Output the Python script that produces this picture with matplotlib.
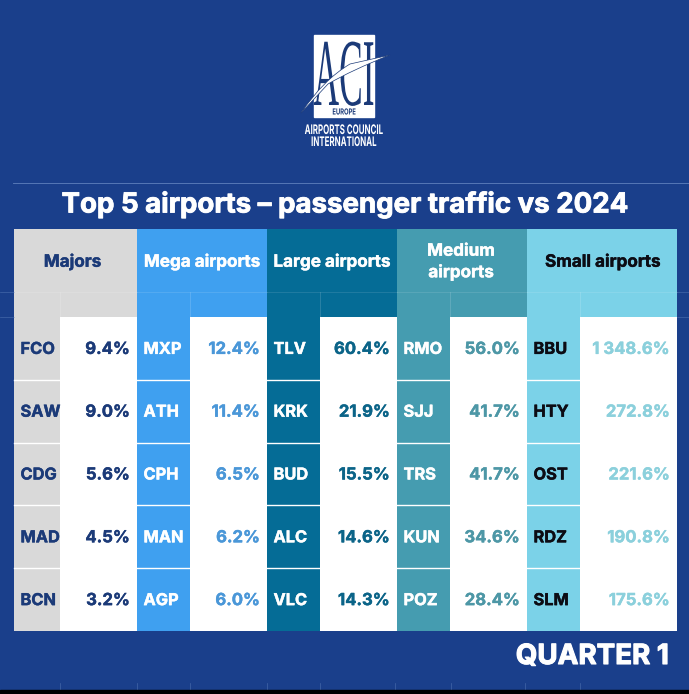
#!/usr/bin/env python3
"""Top 5 airports table, ACI Europe Q1 card. 689x694."""
import matplotlib; matplotlib.use("Agg")
import matplotlib.pyplot as plt
from matplotlib.patches import PathPatch, Rectangle
from matplotlib.path import Path
from matplotlib.patheffects import AbstractPathEffect, withStroke
from matplotlib.transforms import Affine2D

BG = "#1a3f8b"; NAVY = "#1b3a78"; FAINT = "#5f80bd"
plt.rcParams.update({"font.family": ["Inter", "DejaVu Sans"]})

groups = ["Majors", "Mega airports", "Large airports", "Medium\nairports", "Small airports"]
codes = [
    ["FCO", "SAW", "CDG", "MAD", "BCN"],
    ["MXP", "ATH", "CPH", "MAN", "AGP"],
    ["TLV", "KRK", "BUD", "ALC", "VLC"],
    ["RMO", "SJJ", "TRS", "KUN", "POZ"],
    ["BBU", "HTY", "OST", "RDZ", "SLM"],
]
values = [
    ["9.4%", "9.0%", "5.6%", "4.5%", "3.2%"],
    ["12.4%", "11.4%", "6.5%", "6.2%", "6.0%"],
    ["60.4%", "21.9%", "15.5%", "14.6%", "14.3%"],
    ["56.0%", "41.7%", "41.7%", "34.6%", "28.4%"],
    ["1 348.6%", "272.8%", "221.6%", "190.8%", "175.6%"],
]
fills = ["#d9d9d9", "#3fa0f0", "#056c96", "#459cb0", "#7bd2e8"]
head_colors = [NAVY, "white", "white", "white", "#0c0c14"]
code_colors = [NAVY, "white", "white", "white", "#0c0c14"]
value_colors = [NAVY, "#4a97d8", "#0b6488", "#4d97a6", "#8bd0dc"]

col_left = [14, 137, 267, 397, 527, 677]
code_w = [46, 53, 53, 53, 53]
head_shift = [-3, 0, 0, -1, 1]
top, head_bot, bottom = 229, 317, 631
row_h = (bottom - head_bot) / 5


class Squeeze(AbstractPathEffect):
    """narrow a text horizontally around x (display px), the logo lettering is condensed"""
    def __init__(self, cx, sx):
        super().__init__()
        self.cx, self.sx = cx, sx

    def draw_path(self, renderer, gc, tpath, affine, rgbFace=None):
        squeeze = Affine2D().translate(-self.cx, 0).scale(self.sx, 1).translate(self.cx, 0)
        renderer.draw_path(gc, tpath, affine + squeeze, rgbFace)


def heavy(color, w=0.6):
    return [withStroke(linewidth=w, foreground=color)]


fig = plt.figure(figsize=(6.89, 6.94), dpi=100, facecolor=BG)
ax = fig.add_axes([0, 0, 1, 1]); ax.axis("off")
ax.set_xlim(0, 689); ax.set_ylim(694, 0)

# faint grid lines left over in the card background
ax.plot([13, 689], [183, 183], color=FAINT, lw=0.6)
for y in [292, 317]:
    ax.plot([0, 14], [y, y], color=FAINT, lw=0.5, alpha=0.6)
    ax.plot([677, 689], [y, y], color=FAINT, lw=0.5, alpha=0.6)
for x in [60, 137, 190, 267, 320, 395, 451, 525, 580]:
    ax.plot([x, x], [683, 690], color=FAINT, lw=0.5, alpha=0.6)
ax.add_patch(Rectangle((0, 690), 689, 4, color="black", zorder=5))

# logo
ax.add_patch(Rectangle((314, 35), 60, 82, color="white"))
ax.text(344, 105, "ACI", ha="center", va="baseline", fontsize=69, family="Liberation Serif",
        color=NAVY, path_effects=[Squeeze(344, 0.37)])
swoosh = Path([(301, 113), (323, 80), (350, 64), (390, 55), (352, 70), (328, 84), (301, 113)],
              [Path.MOVETO, Path.CURVE3, Path.CURVE3, Path.LINETO, Path.CURVE3, Path.CURVE3, Path.CLOSEPOLY])
ax.add_patch(PathPatch(swoosh, fc="white", ec=NAVY, lw=0.5, zorder=3))
ax.text(344, 112, "EUROPE", ha="center", va="center", fontsize=6, color=NAVY, fontweight="bold",
        path_effects=[Squeeze(344, 0.7)])
ax.text(344, 131, "AIRPORTS COUNCIL", ha="center", va="center", fontsize=9.5, color="white",
        fontweight="bold", path_effects=[Squeeze(344, 0.6)])
ax.text(344, 143, "INTERNATIONAL", ha="center", va="center", fontsize=9.5, color="white",
        fontweight="bold", path_effects=[Squeeze(344, 0.6)])

ax.text(345, 205, "Top 5 airports – passenger traffic vs 2024", ha="center", va="center",
        fontsize=19.9, color="white", fontweight="bold", path_effects=heavy("white"))

for c, group in enumerate(groups):
    x0, x1 = col_left[c], col_left[c + 1]
    ax.add_patch(Rectangle((x0, top), x1 - x0, head_bot - top, color=fills[c], lw=0))
    ax.plot([x0 + code_w[c], x0 + code_w[c]], [292, head_bot], color="white", alpha=0.2, lw=0.5)
    ax.plot([x0, x1], [292, 292], color="white", alpha=0.15, lw=0.5)
    ax.text((x0 + x1) / 2 + head_shift[c], 262, group, ha="center", va="center", fontsize=12.3,
            linespacing=1.3, color=head_colors[c], fontweight="bold",
            path_effects=heavy(head_colors[c], 0.3))
    for r in range(5):
        y0 = head_bot + r * row_h
        ax.add_patch(Rectangle((x0, y0), code_w[c], row_h, color=fills[c], lw=0))
        ax.add_patch(Rectangle((x0 + code_w[c], y0), x1 - x0 - code_w[c], row_h, color="white", lw=0))
        if r:
            ax.plot([x0, x0 + code_w[c]], [y0, y0], color="white", lw=1)
        ax.text(x0 + 6.5, y0 + row_h / 2 + 1, codes[c][r], ha="left", va="center", fontsize=11.8,
                color=code_colors[c], fontweight="bold", path_effects=heavy(code_colors[c], 0.3))
        ax.text(x1 - 7, y0 + row_h / 2 + 1, values[c][r], ha="right", va="center", fontsize=12,
                color=value_colors[c], fontweight="bold", path_effects=heavy(value_colors[c], 0.3))

ax.text(669, 657, "QUARTER 1", ha="right", va="center", fontsize=20, color="white", fontweight="bold",
        path_effects=heavy("white", 0.8))

fig.savefig("out.png", dpi=100, facecolor=BG)
